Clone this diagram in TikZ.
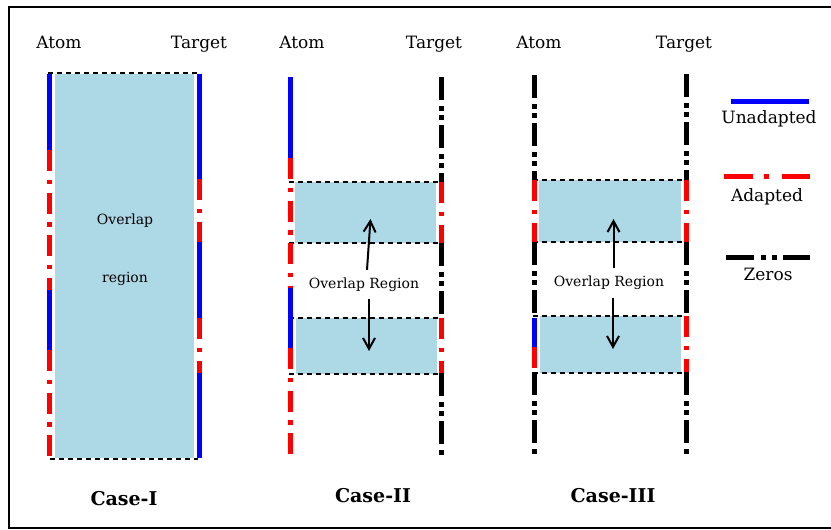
\documentclass[tikz,border=0pt]{standalone}
\usepackage{fontspec}
\setmainfont{DejaVu Serif}
\usetikzlibrary{arrows.meta}
\definecolor{lb}{RGB}{173,216,230}
\begin{document}
\begin{tikzpicture}[x=1pt,y=-1pt,
  unad/.style={draw=blue,line width=5pt},
  adap/.style={draw=red,line width=5pt,dash pattern=on 21pt off 8.5pt on 4.5pt off 8.5pt},
  zero/.style={draw=black,line width=5pt,dash pattern=on 23pt off 6pt on 4.5pt off 4.5pt on 4.5pt off 5.5pt},
  ovbox/.style={fill=lb,draw=none},
  bline/.style={draw=black,line width=2.5pt,dash pattern=on 5pt off 4pt},
  lab/.style={font=\fontsize{17}{19}\selectfont,anchor=base,inner sep=0pt},
  small/.style={font=\fontsize{14}{16}\selectfont,anchor=base,inner sep=0pt},
  ovl/.style={font=\fontsize{14}{16}\selectfont,inner xsep=0pt,inner ysep=7.5pt},
  casel/.style={font=\fontsize{19}{21}\selectfont\bfseries,anchor=base,inner sep=0pt},
  arr/.style={draw=black,line width=2pt,-{Straight Barb[length=11pt,width=12pt]}}
]
\useasboundingbox (0,0) rectangle (831,530);
% frame
\draw[line width=2.5pt] (831,7) -- (9,7) -- (9,528) -- (831,528);

% ---------------- Case I ----------------
\fill[lb] (55,74) rectangle (194,458);
\draw[bline] (48,73) -- (197,73);
\draw[bline] (50,459) -- (198,459);
\draw[unad] (49.5,74) -- (49.5,150);
\draw[adap] (49.5,150) -- (49.5,290);
\draw[unad] (49.5,290) -- (49.5,350);
\draw[adap] (49.5,350) -- (49.5,458);
\draw[unad] (199.5,74) -- (199.5,179);
\draw[adap] (199.5,179) -- (199.5,242);
\draw[unad] (199.5,242) -- (199.5,318);
\draw[adap] (199.5,318) -- (199.5,373);
\draw[unad] (199.5,373) -- (199.5,458);
\node[lab] (a1) at (59,48) {Atom};
\node[lab] (t1) at (199,48) {Target};
\node[small] (o1) at (125,224) {Overlap};
\node[small] (r1) at (125,282) {region};
\node[casel] (c1) at (124,505) {Case-I};

% ---------------- Case II ----------------
\fill[lb] (295,182) rectangle (436,243);
\fill[lb] (296,318) rectangle (437,374);
\draw[bline] (289,182) -- (440,182);
\draw[bline] (289,243) -- (440,243);
\draw[bline] (289,318) -- (440,318);
\draw[bline] (289,374) -- (440,374);
\draw[unad] (290.5,77) -- (290.5,158);
\draw[adap] (290.5,158) -- (290.5,288);
\draw[unad] (290.5,288) -- (290.5,348);
\draw[adap] (290.5,348) -- (290.5,455);
\draw[zero] (441.5,77) -- (441.5,182);
\draw[adap] (441.5,182) -- (441.5,243);
\draw[zero] (441.5,243) -- (441.5,318);
\draw[adap] (441.5,318) -- (441.5,373);
\draw[zero] (441.5,373) -- (441.5,455);
\node[lab] (a2) at (302,48) {Atom};
\node[lab] (t2) at (434,48) {Target};
\node[ovl] (ov2) at (364,284.5) {Overlap Region};
\coordinate (u2) at (370.5,219);
\coordinate (d2) at (369,351);
\draw[arr] ([xshift=3pt]ov2.north) -- (u2);
\draw[arr] ([xshift=5pt]ov2.south) -- (d2);
\node[casel] (c2) at (373,502) {Case-II};

% ---------------- Case III ----------------
\fill[lb] (539,180) rectangle (681,242);
\fill[lb] (540,316) rectangle (681,373);
\draw[bline] (533,180) -- (683,180);
\draw[bline] (533,242) -- (683,242);
\draw[bline] (533,316) -- (683,316);
\draw[bline] (533,373) -- (683,373);
\draw[zero] (534.5,75) -- (534.5,180);
\draw[adap] (534.5,180) -- (534.5,242);
\draw[zero] (534.5,242) -- (534.5,318);
\draw[unad] (534.5,318) -- (534.5,347);
\draw[adap] (534.5,347) -- (534.5,372);
\draw[zero] (534.5,372) -- (534.5,455);
\draw[zero] (686.5,74) -- (686.5,180);
\draw[adap] (686.5,180) -- (686.5,242);
\draw[zero] (686.5,242) -- (686.5,316);
\draw[adap] (686.5,316) -- (686.5,372);
\draw[zero] (686.5,372) -- (686.5,455);
\node[lab] (a3) at (539,48) {Atom};
\node[lab] (t3) at (684,48) {Target};
\node[ovl] (ov3) at (609,283) {Overlap Region};
\coordinate (u3) at (613.5,219);
\coordinate (d3) at (613,349);
\draw[arr] ([xshift=4.5pt]ov3.north) -- (u3);
\draw[arr] ([xshift=4pt]ov3.south) -- (d3);
\node[casel] (c3) at (613,502) {Case-III};

% ---------------- Legend ----------------
\draw[unad] (731,101) -- (809,101);
\node[lab] (l1) at (769,123) {Unadapted};
\draw[draw=red,line width=5pt,dash pattern=on 29pt off 11pt on 5pt off 13pt on 28pt off 5pt] (724,176) -- (810,176);
\node[lab] (l2) at (767,201) {Adapted};
\draw[draw=black,line width=5pt,dash pattern=on 28pt off 7pt on 5pt off 6pt on 5pt off 6pt on 27pt off 5pt] (726,257) -- (810,257);
\node[lab] (l3) at (768,280) {Zeros};
\end{tikzpicture}
\end{document}
